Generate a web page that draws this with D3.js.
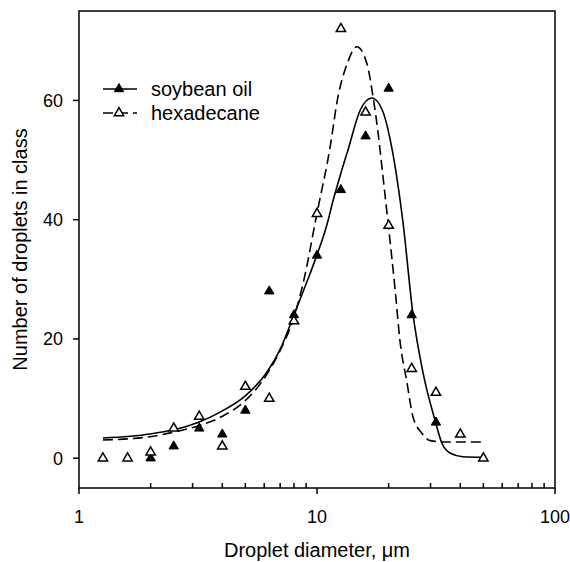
<!DOCTYPE html>
<html><head><meta charset="utf-8">
<script src="https://cdn.jsdelivr.net/npm/d3@7"></script>
<style>body{margin:0;background:#fff}svg{display:block}text{font-family:"Liberation Sans",Arial,sans-serif;fill:#000}</style>
</head><body>
<svg id="c" width="570" height="562"></svg>
<script>
// Observed data
const soyD = [2, 2.5, 3.2, 4, 5, 6.3, 8, 10, 12.6, 16, 20, 25, 31.6];
const soyN = [0, 2, 5, 4, 8, 28, 24, 34, 45, 54, 62, 24, 6];
const hexD = [1.26, 1.6, 2, 2.5, 3.2, 4, 5, 6.3, 8, 10, 12.6, 16, 20, 25, 31.6, 40, 50];
const hexN = [0, 0, 1, 5, 7, 2, 12, 10, 23, 41, 72, 58, 39, 15, 11, 4, 0];
// Fitted curves
const soyFitD = [1.26, 1.99, 2.51, 3.16, 3.99, 4.98, 6.05, 6.99, 7.93, 8.91, 10, 11.0, 11.7, 12.6, 13.5, 15.2, 17.0, 18.8, 20.7, 23.0, 25.3, 27.9, 31.3, 33.5, 36.2, 41.0, 50.3];
const soyFitN = [3.39, 4.06, 4.8, 6.0, 7.9, 10.4, 14.0, 18.2, 23.6, 28.8, 34.1, 39.1, 43.3, 47.8, 51.7, 58.4, 60.4, 58.4, 51.7, 39.4, 24.2, 14.3, 6.4, 2.5, 0.87, 0.25, 0.15];
const hexFitD = [1.26, 1.99, 2.51, 3.16, 3.99, 4.98, 6.05, 6.99, 7.93, 8.74, 10, 11.3, 12.25, 13.4, 14.7, 16.2, 17.2, 18.0, 18.9, 19.9, 21.3, 22.3, 23.9, 25.3, 27.6, 29.9, 35.2, 50.3];
const hexFitN = [3.05, 3.6, 4.4, 5.4, 7.0, 9.6, 13.6, 18.0, 23.2, 29.3, 41.1, 51.7, 60.6, 66.2, 69.0, 66.2, 60.6, 55.0, 47.5, 39.4, 28.2, 19.8, 12.6, 6.96, 4.18, 2.94, 2.72, 2.72];
const yTicks = [0, 20, 40, 60];
const xMajor = [1, 10, 100];
const seriesNames = ["soybean oil", "hexadecane"];

const svg = d3.select("#c");
const L = 79, R = 555, T = 11, B = 488;
const x = d3.scaleLog().domain([1, 100]).range([L, R]);
const y = d3.scaleLinear().domain([-5, 75]).range([B, T]);

// frame
svg.append("rect").attr("x", L).attr("y", T).attr("width", R - L).attr("height", B - T)
  .attr("fill", "none").attr("stroke", "#000").attr("stroke-width", 1.5);

// x axis: major ticks outward, minor ticks inward
const minor = [];
for (let dec of [1, 10]) for (let k = 2; k <= 9; k++) minor.push(dec * k);
const gx = svg.append("g");
gx.selectAll("line.mj").data(xMajor).join("line")
  .attr("x1", d => x(d)).attr("x2", d => x(d)).attr("y1", B).attr("y2", B + 6)
  .attr("stroke", "#000").attr("stroke-width", 1.5);
gx.selectAll("line.mn").data(minor).join("line")
  .attr("x1", d => x(d)).attr("x2", d => x(d)).attr("y1", B).attr("y2", B - 5)
  .attr("stroke", "#000").attr("stroke-width", 1.5);
gx.selectAll("text").data(xMajor).join("text")
  .attr("x", d => x(d)).attr("y", 523).attr("text-anchor", "middle")
  .attr("font-size", 18).text(d => d);

// y axis
const gy = svg.append("g");
gy.selectAll("line").data(yTicks).join("line")
  .attr("x1", L - 6).attr("x2", L).attr("y1", d => y(d)).attr("y2", d => y(d))
  .attr("stroke", "#000").attr("stroke-width", 1.5);
gy.selectAll("text").data(yTicks).join("text")
  .attr("x", L - 16).attr("y", d => y(d) + 6.5).attr("text-anchor", "end")
  .attr("font-size", 18).text(d => d);

// titles
svg.append("text").attr("x", (L + R) / 2).attr("y", 557).attr("text-anchor", "middle")
  .attr("font-size", 20).text("Droplet diameter, μm");
svg.append("text").attr("transform", `translate(27,${(T + B) / 2}) rotate(-90)`)
  .attr("text-anchor", "middle").attr("font-size", 20).text("Number of droplets in class");

// curves
const line = d3.line().x(d => x(d[0])).y(d => y(d[1])).curve(d3.curveMonotoneX);
svg.append("path").attr("d", line(soyFitD.map((d, i) => [d, soyFitN[i]])))
  .attr("fill", "none").attr("stroke", "#000").attr("stroke-width", 1.6);
svg.append("path").attr("d", line(hexFitD.map((d, i) => [d, hexFitN[i]])))
  .attr("fill", "none").attr("stroke", "#000").attr("stroke-width", 1.6)
  .attr("stroke-dasharray", "10,5");

// markers
const tri = d3.symbol().type(d3.symbolTriangle).size(38);
svg.append("g").selectAll("path").data(soyD.map((d, i) => [d, soyN[i]])).join("path")
  .attr("d", tri).attr("transform", d => `translate(${x(d[0])},${y(d[1])})`)
  .attr("fill", "#000").attr("stroke", "#000").attr("stroke-width", 1);
svg.append("g").selectAll("path").data(hexD.map((d, i) => [d, hexN[i]])).join("path")
  .attr("d", tri).attr("transform", d => `translate(${x(d[0])},${y(d[1])})`)
  .attr("fill", "#fff").attr("stroke", "#000").attr("stroke-width", 1.5);

// legend
const lg = svg.append("g");
const rows = [{y: 89, dash: null, fill: "#000"}, {y: 113, dash: "10,5", fill: "#fff"}];
rows.forEach((r, i) => {
  lg.append("line").attr("x1", 103).attr("x2", 137).attr("y1", r.y).attr("y2", r.y)
    .attr("stroke", "#000").attr("stroke-width", 1.5).attr("stroke-dasharray", r.dash);
  lg.append("path").attr("d", tri).attr("transform", `translate(119,${r.y})`)
    .attr("fill", r.fill).attr("stroke", "#000").attr("stroke-width", i ? 1.5 : 1);
  lg.append("text").attr("x", 151).attr("y", r.y + 7).attr("font-size", 20).text(seriesNames[i]);
});
</script>
</body></html>
